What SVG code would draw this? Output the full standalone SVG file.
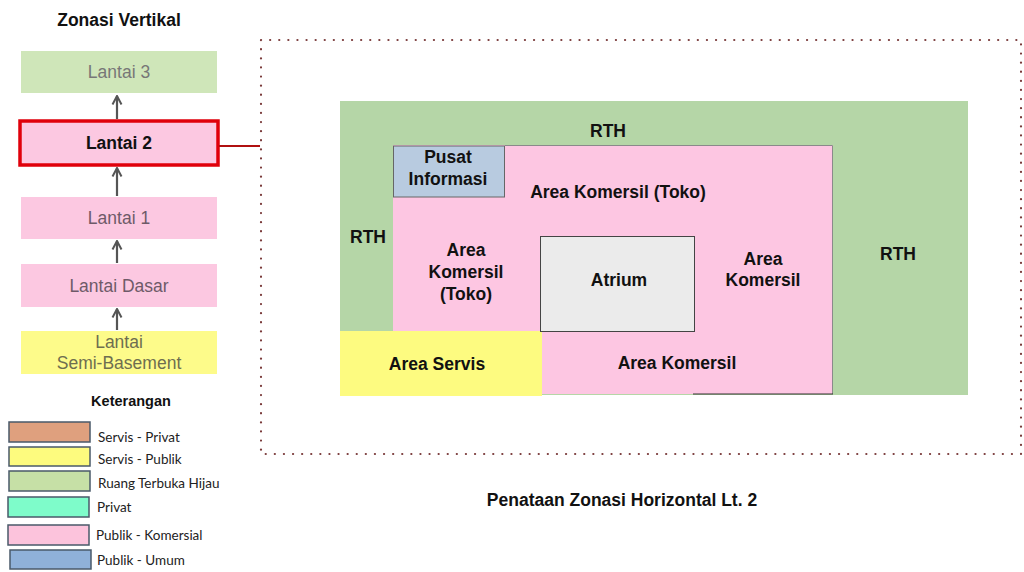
<svg xmlns="http://www.w3.org/2000/svg" width="1024" height="572" viewBox="0 0 1024 572">
<defs>
<style>
.b{font-family:"Liberation Sans",Arial,sans-serif;font-weight:bold;fill:#111;text-anchor:middle}
.lv{font-family:"Liberation Sans",Arial,sans-serif;font-size:17.5px;text-anchor:middle}
.lg{font-family:Lato,"Open Sans",sans-serif;font-size:13.5px;fill:#222}
.sw{stroke:#4a5a6a;stroke-width:1.5}
.ar{stroke:#555;stroke-width:2.2;fill:none}
</style>
<marker id="ah" viewBox="0 0 12 12" refX="10.5" refY="6" markerWidth="12" markerHeight="12" orient="auto" markerUnits="userSpaceOnUse">
<path d="M2,1.5 L10.5,6 L2,10.5" fill="none" stroke="#555" stroke-width="2"/>
</marker>
</defs>
<rect width="1024" height="572" fill="#fff"/>
<text class="b" x="119" y="26" font-size="17.5">Zonasi Vertikal</text>
<g id="lantai3"><rect x="21" y="51" width="196" height="42" fill="#cfe6b9"/><text class="lv" x="119" y="78" fill="#777">Lantai 3</text></g>
<g id="lantai2"><rect x="20" y="121" width="198" height="44" fill="#fcc8e1" stroke="#e0000b" stroke-width="3.5"/><text class="b" x="119" y="149" font-size="17.5">Lantai 2</text></g>
<g id="lantai1"><rect x="21" y="197" width="196" height="42" fill="#fcc8e1"/><text class="lv" x="119" y="224" fill="#6e5a68">Lantai 1</text></g>
<g id="lantaidasar"><rect x="21" y="264" width="196" height="43" fill="#fcc8e1"/><text class="lv" x="119" y="292" fill="#6e5a68">Lantai Dasar</text></g>
<g id="semibasement"><rect x="21" y="331" width="196" height="43" fill="#fdfb8a"/><text class="lv" x="119" y="348" fill="#6e6e50">Lantai</text><text class="lv" x="119" y="369" fill="#6e6e50">Semi-Basement</text></g>
<g id="connectors">
<line class="ar" x1="117" y1="119" x2="117" y2="96" marker-end="url(#ah)"/>
<line class="ar" x1="117" y1="196" x2="117" y2="168" marker-end="url(#ah)"/>
<line class="ar" x1="117" y1="263" x2="117" y2="241" marker-end="url(#ah)"/>
<line class="ar" x1="117" y1="330" x2="117" y2="309" marker-end="url(#ah)"/>
<line x1="219" y1="146" x2="260" y2="146" stroke="#b01010" stroke-width="2"/>
</g>
<g id="legend">
<text class="b" x="131" y="406" font-size="14.5">Keterangan</text>
<rect class="sw" x="9" y="422" width="81" height="20" fill="#dfa07e"/><text class="lg" x="98" y="442">Servis - Privat</text>
<rect class="sw" x="9" y="447" width="81" height="19" fill="#fdfb7e"/><text class="lg" x="98" y="464">Servis - Publik</text>
<rect class="sw" x="9" y="471" width="81" height="20" fill="#c6e0a6"/><text class="lg" x="98" y="488">Ruang Terbuka Hijau</text>
<rect class="sw" x="8" y="497" width="81" height="20" fill="#7efcca"/><text class="lg" x="97" y="512">Privat</text>
<rect class="sw" x="8" y="525" width="81" height="20" fill="#fcc3dc"/><text class="lg" x="96" y="540">Publik - Komersial</text>
<rect class="sw" x="10" y="550" width="81" height="19" fill="#8fb1d9"/><text class="lg" x="97" y="565">Publik - Umum</text>
</g>
<rect id="frame" x="261" y="40" width="760" height="414" fill="none" stroke="#7a3a3a" stroke-width="2.2" stroke-dasharray="0.1 9" stroke-linecap="round"/>
<g id="plan">
<rect id="rth" x="340" y="101" width="628" height="294" fill="#b5d6a7"/>
<rect id="komersil" x="393" y="145" width="440" height="249" fill="#fdc6e2"/>
<path d="M505,145.5 H832.5 V394" fill="none" stroke="#8a8a8a" stroke-width="1"/>
<line x1="693" y1="394" x2="833" y2="394" stroke="#333" stroke-width="1.2"/>
<rect id="servis" x="340" y="331" width="202" height="65" fill="#fdfb80"/>
<rect id="pusat" x="393.5" y="146" width="111" height="51" fill="#b8cbe0" stroke="#666" stroke-width="1"/>
<rect id="atrium" x="540.5" y="236.5" width="154" height="95" fill="#ebebeb" stroke="#444" stroke-width="1"/>
<g font-size="17.5">
<text class="b" x="608" y="137">RTH</text>
<text class="b" x="448" y="163">Pusat</text>
<text class="b" x="448" y="185">Informasi</text>
<text class="b" x="618" y="198">Area Komersil (Toko)</text>
<text class="b" x="368" y="243">RTH</text>
<text class="b" x="466" y="256">Area</text>
<text class="b" x="466" y="278">Komersil</text>
<text class="b" x="466" y="300">(Toko)</text>
<text class="b" x="619" y="286">Atrium</text>
<text class="b" x="763" y="265">Area</text>
<text class="b" x="763" y="286">Komersil</text>
<text class="b" x="898" y="260">RTH</text>
<text class="b" x="437" y="370">Area Servis</text>
<text class="b" x="677" y="369">Area Komersil</text>
</g>
</g>
<text class="b" x="622" y="506" font-size="17.5">Penataan Zonasi Horizontal Lt. 2</text>
</svg>
